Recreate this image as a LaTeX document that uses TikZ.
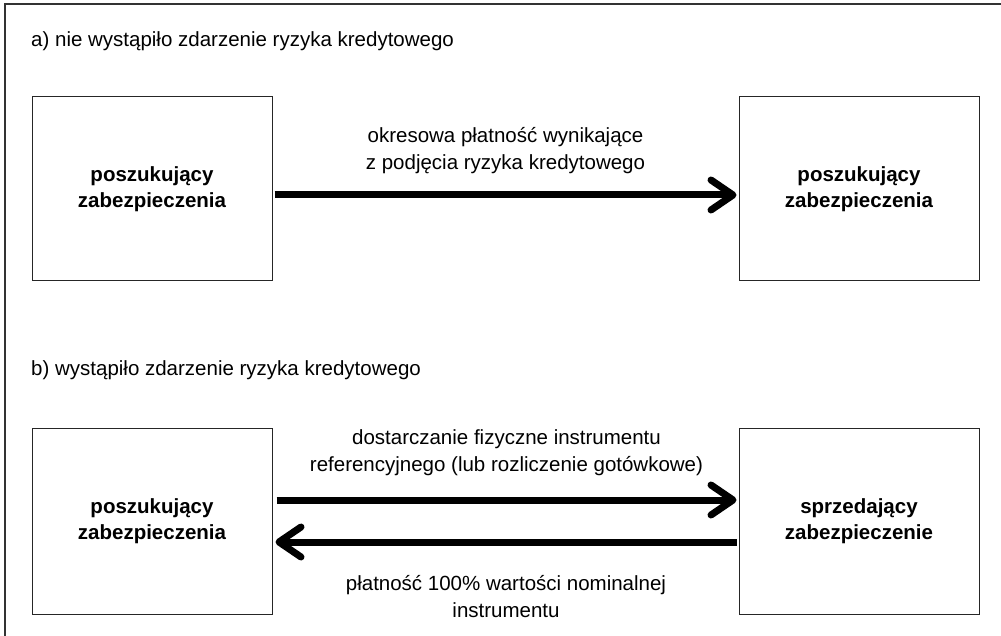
\documentclass[tikz,border=0pt]{standalone}
\usepackage{fontspec}
\setmainfont{Liberation Sans}
\usetikzlibrary{arrows.meta,positioning,calc}
\tikzset{
  party/.style   = {draw=black!85,line width=1pt,minimum width=240pt,
                     minimum height=184pt,align=center,inner sep=0pt,
                     execute at begin node=\rule{0pt}{27pt},
                     font=\fontsize{20.5}{26}\selectfont\bfseries},
  flow/.style    = {-{Straight Barb[length=22pt,width=30pt,line cap=round,
                     line join=round]},line width=7pt},
  flowlbl/.style = {align=center,inner sep=0pt,
                     font=\fontsize{20.5}{27}\selectfont},
  caselbl/.style = {anchor=base west,inner sep=0pt,
                     font=\fontsize{20.5}{25}\selectfont},
}

\begin{document}
\begin{tikzpicture}[x=1pt,y=-1pt]
  \useasboundingbox (0,0) rectangle (1001,636);
  \draw[line width=1.3pt,black!80] (1001,4) -- (5,4) -- (5,636);

  % case a)
  \node[caselbl] (ha) at (31,47) {a) nie wystąpiło zdarzenie ryzyka kredytowego};
  \node[party] (a1) at (152,189) {poszukujący\\ zabezpieczenia};
  \node[party] (a2) at (859,189) {poszukujący\\ zabezpieczenia};
  \draw[flow] ($(a1.east)+(2,6)$) -- ($(a2.west)+(-2,6)$)
        node[midway,above=18pt,flowlbl] (la)
        {okresowa płatność wynikające\\ z podjęcia ryzyka kredytowego};

  % case b)
  \node[caselbl] (hb) at (31,375) {b) wystąpiło zdarzenie ryzyka kredytowego};
  \node[party,minimum height=186pt] (b1) at (152,521) {poszukujący\\ zabezpieczenia};
  \node[party,minimum height=186pt] (b2) at (859,521) {sprzedający\\ zabezpieczenie};
  \draw[flow] ($(b1.east)+(4,-21)$) -- ($(b2.west)+(-2,-21)$)
        node[midway,above=21pt,flowlbl] (lb1)
        {dostarczanie fizyczne instrumentu\\ referencyjnego (lub rozliczenie gotówkowe)};
  \draw[flow] ($(b2.west)+(-2,21)$) -- ($(b1.east)+(3,21)$)
        node[midway,below=30pt,flowlbl] (lb2)
        {płatność 100\% wartości nominalnej\\ instrumentu};
\end{tikzpicture}
\end{document}
